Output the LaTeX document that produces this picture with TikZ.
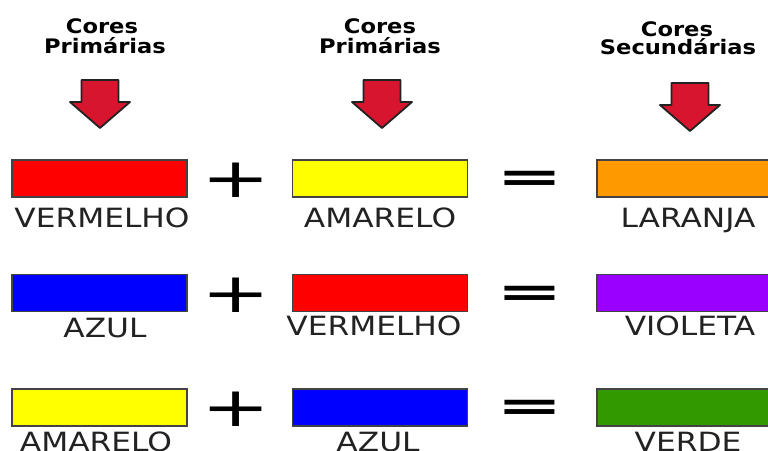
\documentclass[tikz,border=0pt]{standalone}
\usepackage{fontspec}
\setmainfont{DejaVu Sans}
\newfontfamily\headfont[FakeStretch=1.13]{DejaVu Sans}
\newfontfamily\labelfont[FakeStretch=1.18]{DejaVu Sans}
\newfontfamily\plusfont[FakeStretch=1.5]{DejaVu Sans}
\newfontfamily\eqfont[FakeStretch=1.9]{DejaVu Sans}
\usepackage{tikz}
\usetikzlibrary{positioning}

\definecolor{arrowred}{HTML}{D8152F}
\definecolor{cred}{HTML}{FF0000}
\definecolor{cyellow}{HTML}{FFFF00}
\definecolor{corange}{HTML}{FF9900}
\definecolor{cblue}{HTML}{0000FF}
\definecolor{cviolet}{HTML}{9900FF}
\definecolor{cgreen}{HTML}{339900}
\definecolor{ink}{HTML}{222222}

\tikzset{
  headtext/.style={anchor=base, inner sep=0pt, font=\headfont\bfseries\fontsize{20}{22}\selectfont},
  swatch/.style={draw=ink!85, line width=1.3pt, minimum width=175pt, minimum height=37pt, inner sep=0pt},
  colourname/.style={anchor=base, inner sep=0pt, text=ink, font=\labelfont\fontsize{26.5}{30}\selectfont},
  plussign/.style={inner sep=0pt, font=\plusfont\fontsize{55}{60}\selectfont},
  eqsign/.style={inner sep=0pt, font=\eqfont\bfseries\fontsize{42}{50}\selectfont},
  redarrow/.style={fill=arrowred, draw=ink, line width=1.8pt, line join=round}
}

\begin{document}
\begin{tikzpicture}[x=1pt, y=-1pt]
  \useasboundingbox (0,0) rectangle (768,450);
  % headers
  \node[headtext] (c1) at (102,33) {Cores};
  \node[headtext] (p1) at (105,53) {Primárias};
  \node[headtext] (c2) at (380,33) {Cores};
  \node[headtext] (p2) at (380,53) {Primárias};
  \node[headtext] (c3) at (677,36) {Cores};
  \node[headtext] (s3) at (678,54) {Secundárias};
  % block arrows
  \foreach \x/\t in {100/80, 382/80, 690/83}
    \draw[redarrow, shift={(\x,\t)}] (-18.5,0) -- (18.5,0) -- (18.5,22) -- (30,22)
      -- (0,48) -- (-30,22) -- (-18.5,22) -- cycle;
  % first row
  \node[swatch, fill=cred] (r1a) at (99.5,178.5) {};
  \node[swatch, fill=cyellow] (r1b) at (380,178.5) {};
  \node[swatch, fill=corange] (r1c) at (684.5,178.5) {};
  \node[colourname] (n1a) at (102,227) {VERMELHO};
  \node[colourname] (n1b) at (380,227) {AMARELO};
  \node[colourname] (n1c) at (688,227) {LARANJA};
  % second row
  \node[swatch, fill=cblue] (r2a) at (99.5,293) {};
  \node[swatch, fill=cred] (r2b) at (380,293) {};
  \node[swatch, fill=cviolet] (r2c) at (684.5,293) {};
  \node[colourname] (n2a) at (105,337) {AZUL};
  \node[colourname] (n2b) at (374,335) {VERMELHO};
  \node[colourname] (n2c) at (690,335) {VIOLETA};
  % third row
  \node[swatch, fill=cyellow] (r3a) at (99.5,407.5) {};
  \node[swatch, fill=cblue] (r3b) at (380,407.5) {};
  \node[swatch, fill=cgreen] (r3c) at (684.5,407.5) {};
  \node[colourname] (n3a) at (96,451.5) {AMARELO};
  \node[colourname] (n3b) at (378,451.5) {AZUL};
  \node[colourname] (n3c) at (688,451.5) {VERDE};
  % plus and equals signs
  \foreach \r/\y in {1/180.5, 2/295, 3/409.5} {
    \node[plussign] (plus\r) at (236.5,\y) {+};
    \node[eqsign] (eq\r) at (529.5,\y+1) {=};
  }
\end{tikzpicture}
\end{document}
